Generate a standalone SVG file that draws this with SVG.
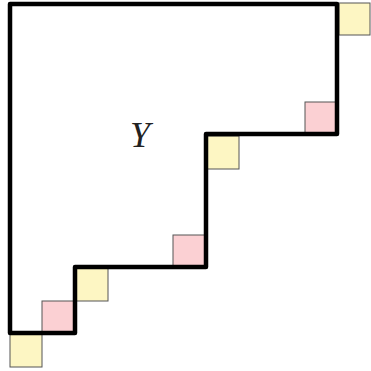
<svg xmlns="http://www.w3.org/2000/svg" width="371" height="371" viewBox="0 0 371 371">
<style>
.add{fill:#fdf6c3;stroke:#555;stroke-width:1}
.rem{fill:#fbd0d3;stroke:#555;stroke-width:1}
.outline{fill:none;stroke:#000;stroke-width:4.5;stroke-linejoin:round}
.lbl{font-family:"Liberation Serif",serif;font-style:italic;font-size:36px;fill:#222}
</style>
<rect width="371" height="371" fill="#fff"/>
<g id="removable">
<rect id="r1" class="rem" x="305" y="102" width="32" height="32"/>
<rect id="r2" class="rem" x="173" y="235" width="32" height="32"/>
<rect id="r3" class="rem" x="42" y="301" width="32" height="32"/>
</g>
<g id="addable">
<rect id="a1" class="add" x="339" y="3" width="31" height="32"/>
<rect id="a2" class="add" x="207" y="136" width="32" height="33"/>
<rect id="a3" class="add" x="76" y="268" width="32" height="33"/>
<rect id="a4" class="add" x="10" y="334" width="32" height="33"/>
</g>
<g id="shape">
<polygon class="outline" points="10,4 337,4 337,134 206,134 206,267 75,267 75,333 10,333"/>
<text class="lbl" x="140" y="147" text-anchor="middle">Y</text>
</g>
</svg>
